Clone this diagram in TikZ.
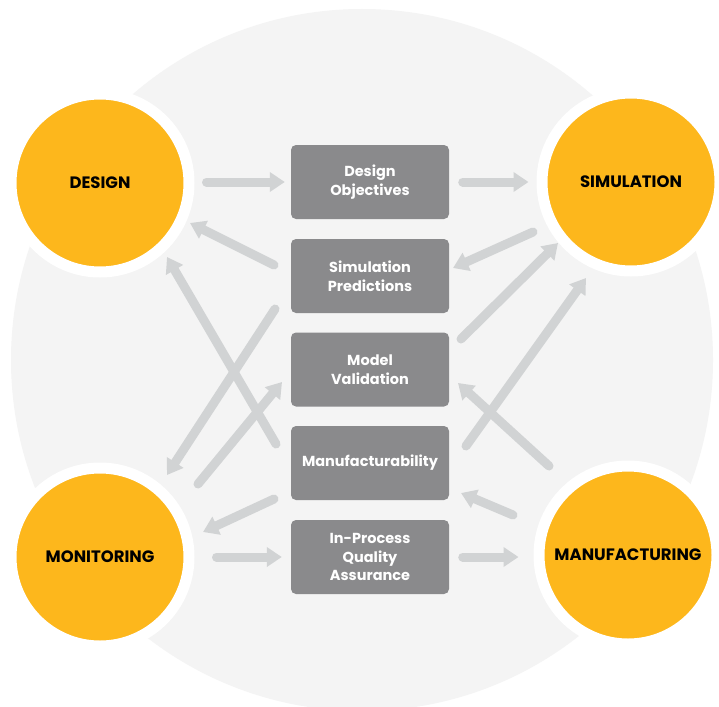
\documentclass[tikz,border=0pt]{standalone}
\usepackage{fontspec}
\setmainfont{Poppins}
\usetikzlibrary{arrows.meta}
\definecolor{bgc}{HTML}{F4F4F4}
\definecolor{orng}{HTML}{FDB71C}
\definecolor{boxc}{HTML}{8A8A8C}
\definecolor{arrc}{HTML}{D1D3D4}
\begin{document}
\begin{tikzpicture}[x=1pt,y=-1pt,
  hub/.style={circle, fill=orng, draw=white, line width=11pt, minimum size=178pt,
    inner sep=0pt, text=black, font=\fontsize{16.5}{19}\selectfont\bfseries},
  stage/.style={rectangle, rounded corners=5pt, fill=boxc, minimum width=158pt,
    minimum height=74pt, inner sep=0pt, align=center, text=white,
    font=\fontsize{14.5}{18.5}\selectfont\bfseries},
  flow/.style={draw=arrc, line width=9pt, line cap=round,
    -{Triangle[width=19pt,length=15pt]}}]
\useasboundingbox (0,0) rectangle (719,706);
\fill[white] (0,0) rectangle (719,706);
\fill[bgc] (362,360) circle (351);

% hubs
\node[hub] (design) at (100,183) {DESIGN};
\node[hub] (sim) at (631,182) {SIMULATION};
\node[hub] (mon) at (100,557) {MONITORING};
\node[hub] (mfg) at (628,555) {MANUFACTURING};

% stages
\node[stage] (dobj) at (370,182) {Design\\Objectives};
\node[stage] (spred) at (370,276) {Simulation\\Predictions};
\node[stage] (mval) at (370,369.5) {Model\\Validation};
\node[stage] (mfb) at (370,463) {Manufacturability};
\node[stage] (qa) at (370,557) {In-Process\\Quality\\Assurance};

% connector end points
\coordinate (s3) at (533,232);  \coordinate (e3) at (453,268);
\coordinate (s4) at (274,265);  \coordinate (e4) at (190,223);
\coordinate (s5) at (276,444);  \coordinate (e5) at (167,257);
\coordinate (s6) at (275,309);  \coordinate (e6) at (167,475);
\coordinate (s7) at (198,484);  \coordinate (e7) at (282,382);
\coordinate (s8) at (461,339);  \coordinate (e8) at (558,243);
\coordinate (s9) at (466,446);  \coordinate (e9) at (586,278);
\coordinate (s10) at (549,466); \coordinate (e10) at (458,383);
\coordinate (s11) at (513,515); \coordinate (e11) at (461,493);
\coordinate (s12) at (274,499); \coordinate (e12) at (203,532);

% horizontal connectors
\draw[flow, shorten <=12pt, shorten >=6pt] (design.east |- dobj.west) -- (dobj.west);
\draw[flow, shorten <=13.5pt, shorten >=8pt] (dobj.east) -- (dobj.east -| sim.west);
\draw[flow, shorten <=22pt, shorten >=9pt] (mon.east |- qa.west) -- (qa.west);
\draw[flow, shorten <=13.5pt, shorten >=15pt] (qa.east) -- (qa.east -| mfg.west);

% diagonal connectors
\draw[flow] (s3) -- (e3);
\draw[flow] (s4) -- (e4);
\draw[flow] (s5) -- (e5);
\draw[flow] (s6) -- (e6);
\draw[flow] (s7) -- (e7);
\draw[flow] (s8) -- (e8);
\draw[flow] (s9) -- (e9);
\draw[flow] (s10) -- (e10);
\draw[flow] (s11) -- (e11);
\draw[flow] (s12) -- (e12);
\end{tikzpicture}
\end{document}
